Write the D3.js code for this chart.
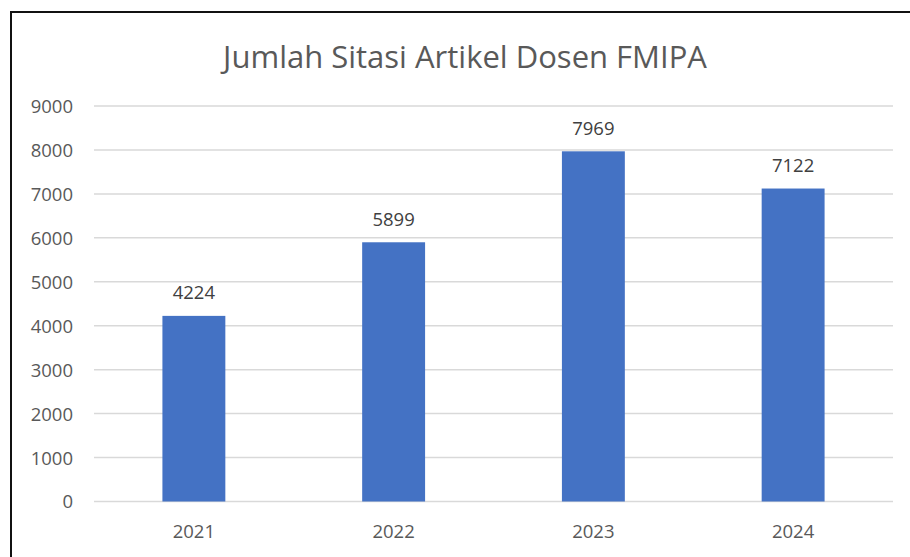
<!DOCTYPE html>
<html>
<head>
<meta charset="utf-8">
<script src="https://cdn.jsdelivr.net/npm/d3@7"></script>
<style>
  body { margin: 0; background: #fff; }
  svg { display: block; font-family: "Open Sans", "Noto Sans", sans-serif; }
</style>
</head>
<body>
<svg width="910" height="557"></svg>
<script>
// chart data
var years = ['2021', '2022', '2023', '2024'];
var citations = [4224, 5899, 7969, 7122];
var yTicks = [0, 1000, 2000, 3000, 4000, 5000, 6000, 7000, 8000, 9000];
var chartTitle = 'Jumlah Sitasi Artikel Dosen FMIPA';

var data = years.map(function (y, i) { return { year: y, value: citations[i] }; });

var fontFamily = '"Open Sans", "Noto Sans", sans-serif';
var svg = d3.select('svg');

// outer frame of the chart (screenshot border)
svg.append('rect')
    .attr('x', 11)
    .attr('y', 12)
    .attr('width', 920)
    .attr('height', 560)
    .attr('fill', '#fff')
    .attr('stroke', '#111')
    .attr('stroke-width', 2);

var plot = { l: 94, r: 893, t: 106, b: 501.5 };

var xScale = d3.scaleBand()
    .domain(years)
    .range([plot.l, plot.r])
    .padding(0);

var yScale = d3.scaleLinear()
    .domain([0, 9000])
    .range([plot.b, plot.t]);

var barWidth = xScale.bandwidth() * 0.315;

// gridlines
svg.append('g')
    .selectAll('line')
    .data(yTicks)
    .enter()
    .append('line')
    .attr('x1', plot.l)
    .attr('x2', plot.r)
    .attr('y1', function (d) { return yScale(d); })
    .attr('y2', function (d) { return yScale(d); })
    .attr('stroke', '#d9d9d9')
    .attr('stroke-width', 1.5);

// y axis labels
var yAxis = d3.axisLeft(yScale).tickValues(yTicks).tickFormat(d3.format('d')).tickSize(0).tickPadding(0);
var yG = svg.append('g')
    .attr('transform', 'translate(' + [73, 0] + ')')
    .call(yAxis)
    .attr('font-family', fontFamily);
yG.select('.domain').remove();
yG.selectAll('text')
    .attr('fill', '#595959')
    .style('font-size', '18.5px')
    .attr('dy', '0.35em');

// x axis labels
var xAxis = d3.axisBottom(xScale).tickSize(0).tickPadding(0);
var xG = svg.append('g')
    .attr('transform', 'translate(' + [0, 532] + ')')
    .call(xAxis)
    .attr('font-family', fontFamily);
xG.select('.domain').remove();
xG.selectAll('text')
    .attr('fill', '#595959')
    .style('font-size', '18.5px')
    .attr('y', 0)
    .attr('dy', '0.35em');

// bars
svg.selectAll('.bar')
    .data(data)
    .enter()
    .append('rect')
    .attr('class', 'bar')
    .attr('x', function (d) { return xScale(d.year) + (xScale.bandwidth() - barWidth) / 2; })
    .attr('y', function (d) { return yScale(d.value); })
    .attr('width', barWidth)
    .attr('height', function (d) { return plot.b - yScale(d.value); })
    .attr('fill', '#4472c4');

// value labels
svg.selectAll('.val')
    .data(data)
    .enter()
    .append('text')
    .attr('class', 'val')
    .attr('x', function (d) { return xScale(d.year) + xScale.bandwidth() / 2; })
    .attr('y', function (d) { return yScale(d.value) - 23; })
    .attr('dy', '0.35em')
    .attr('text-anchor', 'middle')
    .attr('fill', '#404040')
    .style('font-size', '18.5px')
    .text(function (d) { return d.value; });

// title
svg.append('text')
    .attr('x', 465)
    .attr('y', 57)
    .attr('dy', '0.35em')
    .attr('text-anchor', 'middle')
    .attr('fill', '#595959')
    .style('font-size', '31px')
    .text(chartTitle);
</script>
</body>
</html>
